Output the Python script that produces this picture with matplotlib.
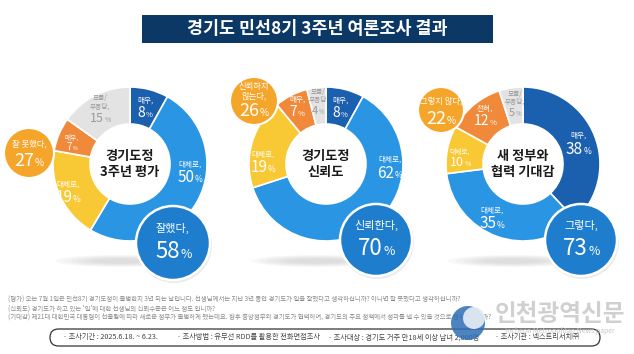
import matplotlib
matplotlib.use("Agg")
import matplotlib.pyplot as plt
from matplotlib.patches import Circle, Ellipse, FancyBboxPatch, Rectangle

plt.rcParams['font.family'] = ['Noto Sans CJK KR', 'DejaVu Sans']

# data
title = "경기도 민선8기 3주년 여론조사 결과"
chart_titles = ["경기도정\n3주년 평가", "경기도정\n신뢰도", "새 정부와\n협력 기대감"]
eval_labels = ["매우,", "대체로,", "대체로,", "매우,", "모름/\n무응답,"]
eval_values = [8, 50, 19, 7, 15]
trust_labels = ["매우,", "대체로,", "대체로,", "매우,", "모름/\n무응답"]
trust_values = [8, 62, 19, 7, 4]
coop_labels = ["매우,", "대체로,", "대체로,", "전혀,", "모름/\n무응답,"]
coop_values = [38, 35, 10, 12, 5]
pos_heads = ["잘했다,", "신뢰한다,", "그렇다,"]
pos_values = [58, 70, 73]
neg_heads = ["잘 못했다,", "신뢰하지\n않는다,", "그렇지 않다,"]
neg_values = [27, 26, 22]
notes = [
    "(평가) 오는 7월 1일은 민선8기 경기도정이 출범한지 3년 되는 날입니다. 선생님께서는 지난 3년 동안 경기도가 일을 잘했다고 생각하십니까? 아니면 잘 못했다고 생각하십니까?",
    "(신뢰도) 경기도가 하고 있는 '일'에 대한 선생님의 신뢰수준은 어느 정도 입니까?",
    "(기대감) 제21대 대한민국 대통령이 선출됨에 따라 새로운 정부가 출범하게 됐는데요. 향후 중앙정부와 경기도가 협력하여, 경기도의 주요 정책에서 성과를 낼 수 있을 것으로 생각하십니까?",
]
survey_info = ["· 조사기간 : 2025.6.18. ~ 6.23.", "· 조사방법 : 유무선 RDD를 활용한 전화면접조사",
               "· 조사대상 : 경기도 거주 만18세 이상 남녀 2,000명", "· 조사기관 : 넥스트리서치㈜"]

# layout / style
W, H = 634, 354
colors = ["#1b5faf", "#2a95e2", "#f8c935", "#f08a3a", "#e3e3e3"]
text_colors = ["white", "white", "white", "white", "#9a9a9a"]
centers = [(130, 164), (326, 164), (523, 164)]
R_OUT, R_IN = 77, 40
num_offsets = [
    [(15, -52), (60, 13), (-62, 33), (-58, -17), (-30, -47)],
    [(14, -52), (64, 8), (-63, 3), (-29, -53), (-8, -54)],
    [(55, -16), (-31, 59), (-63, -2), (-38, -44), (-8, -52)],
]
num_sizes = [[10, 11, 11, 7, 9], [10, 11, 11, 10, 8], [11, 11, 9, 10, 8]]
pos_circles = [(173, 243, 37), (376, 240, 36), (581, 240, 36)]
neg_circles = [(29, 153, 25), (254, 101, 24), (441, 110, 23)]

fig = plt.figure(figsize=(W / 100, H / 100), dpi=100)
ax = fig.add_axes([0, 0, 1, 1])


def Y(y):
    return H - y


all_values = [eval_values, trust_values, coop_values]
all_labels = [eval_labels, trust_labels, coop_labels]

for (cx, cy), vals in zip(centers, all_values):
    # soft shadow under the donut
    for k in range(6):
        ax.add_patch(Ellipse((cx - 10, Y(261)), 130 - k * 15, 12 - k * 1.5,
                             color="#b0b0b0", alpha=0.08, lw=0, zorder=0))
    ax.pie(vals, radius=R_OUT, center=(cx, Y(cy)), startangle=90, counterclock=False,
           colors=colors, wedgeprops=dict(width=R_OUT - R_IN, edgecolor="white", linewidth=1.2))

ax.set_xlim(0, W)
ax.set_ylim(0, H)
ax.set_aspect("auto")
ax.axis("off")
renderer = fig.canvas.get_renderer()


def num_pct(x, y, num, size, color, z=5):
    # number with a smaller percent sign, centred on x; y is the digits' centre (px, y down)
    base = Y(y) - size * 100 / 72 * 0.36
    t1 = ax.text(x, base, str(num), fontsize=size, color=color, ha="left", va="baseline", zorder=z)
    t2 = ax.text(x, base, "%", fontsize=size * 0.55, color=color, ha="left", va="baseline", zorder=z)
    w1 = t1.get_window_extent(renderer).width
    w2 = t2.get_window_extent(renderer).width
    t1.set_x(x - (w1 + w2) / 2)
    t2.set_x(x - (w1 + w2) / 2 + w1 + 0.5)


for i, (cx, cy) in enumerate(centers):
    ax.text(cx, Y(cy), chart_titles[i], fontsize=9.5, fontweight="bold", ha="center",
            va="center", linespacing=1.25, color="#1a1a1a", zorder=5)
    for j, (dx, dy) in enumerate(num_offsets[i]):
        s = num_sizes[i][j]
        nx, ny = cx + dx, cy + dy
        num_pct(nx, ny, all_values[i][j], s, text_colors[j])
        hs = 5.5 if s >= 10 else 4.8
        ax.text(nx, Y(ny - s * 100 / 72 * 0.42 - 1.5), all_labels[i][j], fontsize=hs,
                color=text_colors[j], ha="center", va="bottom", linespacing=1.05, zorder=5)

    # callout circles
    px, py, pr = pos_circles[i]
    ax.add_patch(Circle((px + 1, Y(py + 2)), pr + 1, color="#000000", alpha=0.08, lw=0, zorder=3))
    ax.add_patch(Circle((px, Y(py)), pr, facecolor="#1f7dcd", edgecolor="white", lw=1.8, zorder=4))
    ax.text(px, Y(py - 15), pos_heads[i], fontsize=8, color="white", ha="center", va="center", zorder=5)
    num_pct(px, py + 7, pos_values[i], 16, "white")

    qx, qy, qr = neg_circles[i]
    ax.add_patch(Circle((qx, Y(qy)), qr, facecolor="#f5a62a", edgecolor="white", lw=1.5, zorder=4))
    if "\n" in neg_heads[i]:
        ax.text(qx, Y(qy - 10), neg_heads[i], fontsize=6, color="white", ha="center",
                va="center", linespacing=1.05, zorder=5)
        num_pct(qx, qy + 9, neg_values[i], 13, "white")
    else:
        ax.text(qx, Y(qy - 9), neg_heads[i], fontsize=6, color="white", ha="center",
                va="center", zorder=5)
        num_pct(qx, qy + 7, neg_values[i], 13, "white")

# title bar
ax.add_patch(Rectangle((142, Y(43)), 351, 28, facecolor="#0c3866", edgecolor="none", zorder=2))
ax.text(317.5, Y(29), title, fontsize=12.5, fontweight="bold", color="white",
        ha="center", va="center", zorder=3)

# footnotes
for k, line in enumerate(notes):
    ax.text(8, Y(300 + k * 9), line, fontsize=4.6, color="#8a8a8a", ha="left", va="center", zorder=2)

# survey info box
ax.add_patch(FancyBboxPatch((50, Y(346)), 550, 17, boxstyle="round,pad=0,rounding_size=8.5",
                            facecolor="white", edgecolor="#333333", lw=0.9, zorder=2))
for x, txt in zip([63, 177, 328, 495], survey_info):
    ax.text(x, Y(337.5), txt, fontsize=5.2, color="#444444", ha="left", va="center", zorder=3)

# watermark
ax.add_patch(Circle((468, Y(323)), 17, facecolor="#2e6fb5", edgecolor="none", alpha=0.85, zorder=6))
ax.add_patch(Circle((474, Y(318)), 11, facecolor="#e8f0f7", edgecolor="none", alpha=0.9, zorder=6))
ax.text(560, Y(314), "인천광역신문", fontsize=17, fontweight="bold", color="#c8c8c8", alpha=0.85,
        ha="center", va="center", zorder=6)
ax.text(560, Y(331), "Incheon Metropolitan News paper", fontsize=5, color="#c8c8c8",
        ha="center", va="center", zorder=6)

fig.savefig("out.png", dpi=100)
